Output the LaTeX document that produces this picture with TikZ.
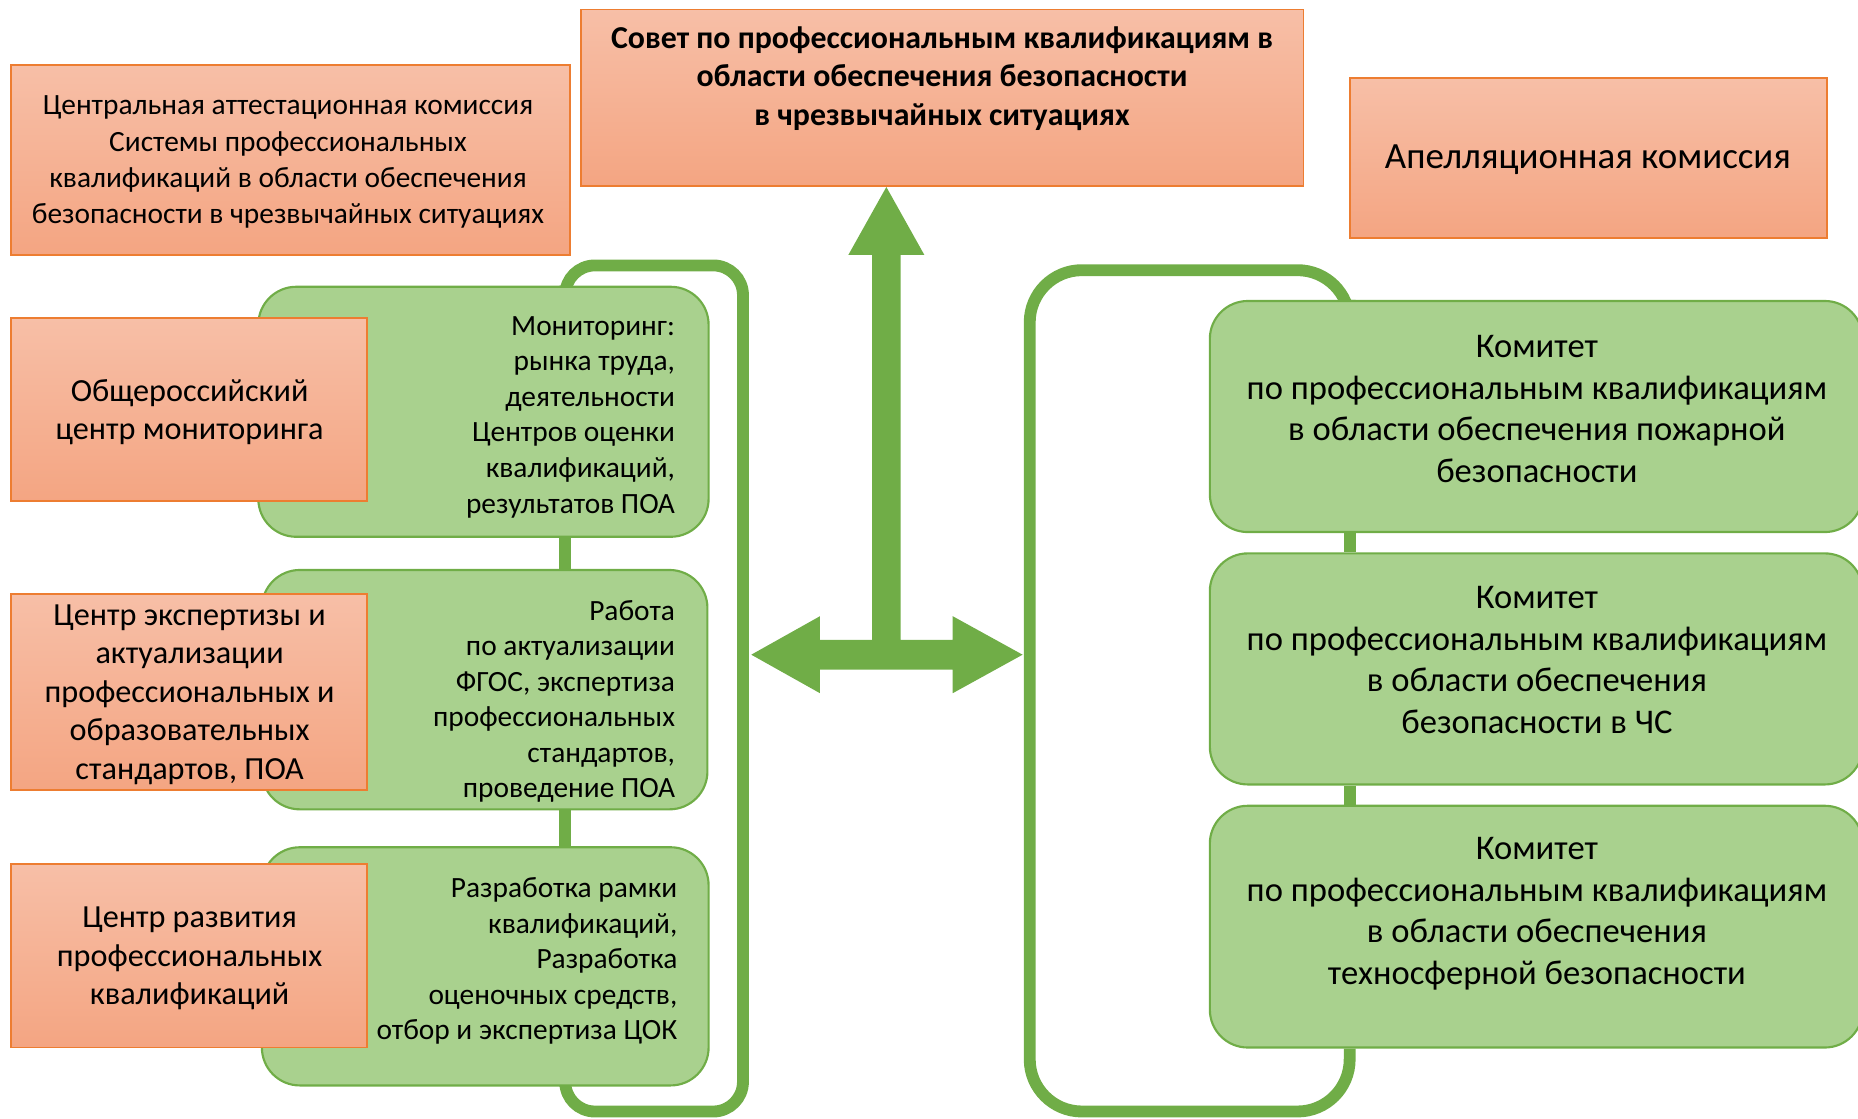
\documentclass[tikz,border=0pt]{standalone}
\usepackage{fontspec}
\setmainfont{Carlito}
\usetikzlibrary{fit,calc}
\pgfdeclarelayer{bg}
\pgfsetlayers{bg,main}
\definecolor{orLine}{HTML}{ED7D31}
\definecolor{orTop}{HTML}{F7BFA7}
\definecolor{orBot}{HTML}{F4A582}
\definecolor{grFill}{HTML}{A9D18E}
\definecolor{grLine}{HTML}{70AD47}
\begin{document}
\begin{tikzpicture}[x=0.5pt,y=-0.5pt,
  obox/.style={draw=orLine, line width=0.8pt, top color=orTop, bottom color=orBot, inner sep=0pt},
  gbox/.style={draw=grLine, line width=0.9pt, fill=grFill, rounded corners=16pt, inner sep=0pt},
  link/.style={draw=grLine, line width=5pt},
  bigarrow/.style={fill=grLine, draw=none},
  txt/.style={inner sep=0pt, text=black},
  fa/.style={font=\fontsize{12.4}{15.35}\selectfont},
  fb/.style={font=\fontsize{13.6}{16.25}\selectfont},
  fc/.style={font=\fontsize{12.4}{15}\selectfont},
  fd/.style={font=\fontsize{14.6}{17.5}\selectfont},
  fe/.style={font=\bfseries\fontsize{13.45}{16.25}\selectfont},
  ff/.style={font=\fontsize{15.6}{17.5}\selectfont}]
\useasboundingbox (0,0) rectangle (1568,944);
\clip (0,0) rectangle (1568,944);

% reference coordinates
\coordinate (lx) at (477,0);
\coordinate (rx) at (1139,0);
\coordinate (ux) at (748,0);

% green boxes
\node[gbox, fit={(218,242)(598,453)}] (gb1) {};
\node[gbox, fit={(221,481)(597,683)}] (gb2) {};
\node[gbox, fit={(221,715)(598,916)}] (gb3) {};
\node[gbox, fit={(1021,254)(1572,449)}] (rb1) {};
\node[gbox, fit={(1021,467)(1572,662)}] (rb2) {};
\node[gbox, fit={(1021,680)(1572,884)}] (rb3) {};

% brackets and links (behind boxes)
\begin{pgfonlayer}{bg}
\path[link, rounded corners=12.5pt] (gb1.north -| lx) -- (477,224) -- (627,224) -- (627,938) -- (477,938) -- (gb3.south -| lx);
\path[link] (gb1.south -| lx) -- (gb2.north -| lx);
\path[link] (gb2.south -| lx) -- (gb3.north -| lx);
\path[link, rounded corners=22pt] (rb1.north -| rx) -- (1139,228) -- (869,228) -- (869,938) -- (1139,938) -- (rb3.south -| rx);
\path[link] (rb1.south -| rx) -- (rb2.north -| rx);
\path[link] (rb2.south -| rx) -- (rb3.north -| rx);
\end{pgfonlayer}

% orange boxes
\node[obox, fit={(490,8)(1100,157)}] (sovet) {};
\node[obox, fit={(9,55)(481,215)}] (cak) {};
\node[obox, fit={(1139,66)(1542,201)}] (apel) {};
\node[obox, fit={(9,268)(310,423)}] (ocm) {};
\node[obox, fit={(9,501)(310,667)}] (cea) {};
\node[obox, fit={(9,729)(310,884)}] (crpk) {};

% central arrow
\coordinate (tipU) at (sovet.south -| ux);
\coordinate (tipL) at (634,552.5);
\coordinate (tipR) at (863,552.5);
\fill[bigarrow] (tipU) -- (780,215) -- (760,215) -- (760,540) -- (804,540) -- (804,520) -- (tipR)
  -- (804,585) -- (804,565) -- (692,565) -- (692,585) -- (tipL) -- (692,520) -- (692,540)
  -- (736,540) -- (736,215) -- (716,215) -- cycle;

% texts
\node[txt, fe, align=center] (tsovet) at (795,66) {Совет по профессиональным квалификациям в\\области обеспечения безопасности\\в чрезвычайных ситуациях};
\node[txt, fa, align=center] (tcak) at (243,137) {Центральная аттестационная комиссия\\Системы профессиональных\\квалификаций в области обеспечения\\безопасности в чрезвычайных ситуациях};
\node[txt, ff, align=center] (tapel) at (1340,135) {Апелляционная комиссия};
\node[txt, fb, align=center] (tocm) at (160,348) {Общероссийский\\центр мониторинга};
\node[txt, fb, align=center] (tcea) at (160,586) {Центр экспертизы и\\актуализации\\профессиональных и\\образовательных\\стандартов, ПОА};
\node[txt, fb, align=center] (tcrpk) at (160,809) {Центр развития\\профессиональных\\квалификаций};
\node[txt, fc, align=right, anchor=east] (tgb1) at (570,352) {Мониторинг:\\рынка труда,\\деятельности\\Центров оценки\\квалификаций,\\результатов ПОА};
\node[txt, fc, align=right, anchor=east] (tgb2) at (570,592) {Работа\\по актуализации\\ФГОС, экспертиза\\профессиональных\\стандартов,\\проведение ПОА};
\node[txt, fc, align=right, anchor=east] (tgb3) at (572,811) {Разработка рамки\\квалификаций,\\Разработка\\оценочных средств,\\отбор и экспертиза ЦОК};
\node[txt, fd, align=center] (trb1) at (1297,345) {Комитет\\по профессиональным квалификациям\\в области обеспечения пожарной\\безопасности};
\node[txt, fd, align=center] (trb2) at (1297,557) {Комитет\\по профессиональным квалификациям\\в области обеспечения\\безопасности в ЧС};
\node[txt, fd, align=center] (trb3) at (1297,771) {Комитет\\по профессиональным квалификациям\\в области обеспечения\\техносферной безопасности};
\end{tikzpicture}
\end{document}
